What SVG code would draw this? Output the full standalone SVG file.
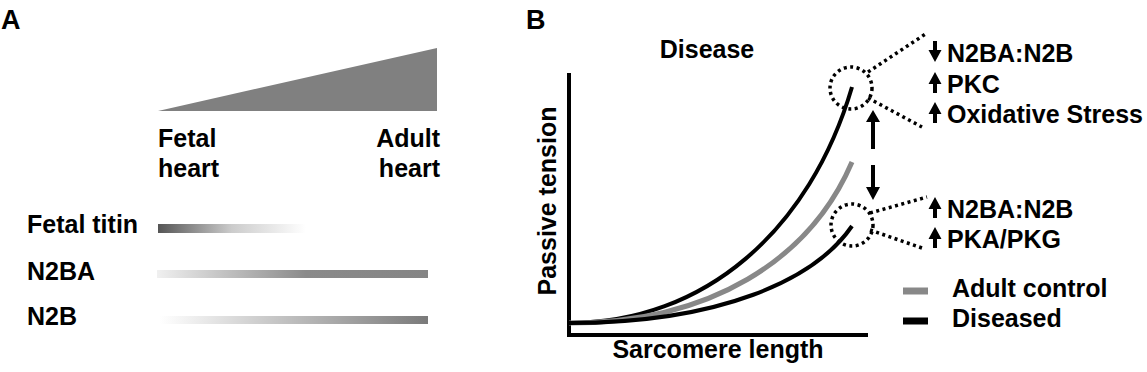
<svg xmlns="http://www.w3.org/2000/svg" width="1147" height="372" viewBox="0 0 1147 372">
<defs>
<style>
text{font-family:"Liberation Sans",Arial,sans-serif;font-weight:bold;font-size:25px;fill:#000}
.big{font-size:27px}
.curve{fill:none;stroke:#000;stroke-width:4}
.dot{fill:none;stroke:#000;stroke-width:3.5;stroke-dasharray:3 3.5}
</style>
<linearGradient id="gFetal" x1="0" x2="1" y1="0" y2="0">
<stop offset="0" stop-color="#555"/><stop offset="0.5" stop-color="#ccc"/><stop offset="1" stop-color="#fff"/>
</linearGradient>
<linearGradient id="gN2BA" x1="0" x2="1" y1="0" y2="0">
<stop offset="0" stop-color="#f0f0f0"/><stop offset="0.55" stop-color="#8a8a8a"/><stop offset="1" stop-color="#858585"/>
</linearGradient>
<linearGradient id="gN2B" x1="0" x2="1" y1="0" y2="0">
<stop offset="0" stop-color="#fff"/><stop offset="1" stop-color="#7a7a7a"/>
</linearGradient>
<g id="arrUp"><path d="M0,0 L6.5,12 L2,12 L2,21 L-2,21 L-2,12 L-6.5,12 Z" fill="#000"/></g>
<g id="arrDown"><path d="M0,21 L6.5,9 L2,9 L2,0 L-2,0 L-2,9 L-6.5,9 Z" fill="#000"/></g>
</defs>
<rect width="1147" height="372" fill="#fff"/>

<g id="panelA">
<text class="big" x="1" y="29">A</text>
<polygon id="triangle" points="158,111 437,111 437,48" fill="#808080"/>
<g id="fetal-heart"><text x="158" y="147">Fetal</text><text x="158" y="177">heart</text></g>
<g id="adult-heart"><text x="440" y="147" text-anchor="end">Adult</text><text x="440" y="177" text-anchor="end">heart</text></g>
<g id="fetal-titin"><text x="27" y="233">Fetal titin</text><rect x="158" y="224" width="148" height="9" fill="url(#gFetal)"/></g>
<g id="n2ba"><text x="27" y="280">N2BA</text><rect x="157" y="270" width="271" height="8" fill="url(#gN2BA)"/></g>
<g id="n2b"><text x="27" y="325">N2B</text><rect x="160" y="316" width="268" height="8" fill="url(#gN2B)"/></g>
</g>

<g id="panelB">
<text class="big" x="526" y="29">B</text>
<text x="707" y="58" text-anchor="middle">Disease</text>
<g id="axes">
<path d="M569,73 L569,335 L868,335" fill="none" stroke="#000" stroke-width="4"/>
<text x="0" y="0" text-anchor="middle" transform="translate(556,201) rotate(-90)">Passive tension</text>
<text x="718" y="358" text-anchor="middle">Sarcomere length</text>
</g>
<g id="curves">
<path class="curve" d="M569,323 C705,323 810,230 852,87"/>
<path class="curve" d="M569,323 C710,323 810,260 852,162" style="stroke:#888;stroke-width:5"/>
<path class="curve" d="M569,323 C720,323 815,280 852,226"/>
</g>
<g id="zoom-top">
<circle class="dot" cx="851" cy="88" r="21"/>
<line class="dot" x1="868" y1="72" x2="927" y2="33"/>
<line class="dot" x1="868" y1="98" x2="922" y2="127"/>
</g>
<g id="zoom-bottom">
<circle class="dot" cx="852" cy="225" r="21"/>
<line class="dot" x1="870" y1="213" x2="927" y2="197"/>
<line class="dot" x1="870" y1="230" x2="922" y2="248"/>
</g>
<g id="double-arrow">
<path d="M873,110 L880,122 L875,122 L875,149 L871,149 L871,122 L866,122 Z" fill="#000"/>
<path d="M873,200 L880,187 L875,187 L875,165 L871,165 L871,187 L866,187 Z" fill="#000"/>
</g>
<g id="labels-top">
<use href="#arrDown" x="935" y="41"/>
<text x="947" y="62">N2BA:N2B</text>
<use href="#arrUp" x="935" y="72"/>
<text x="947" y="93">PKC</text>
<use href="#arrUp" x="935" y="102"/>
<text x="947" y="123">Oxidative Stress</text>
</g>
<g id="labels-bottom">
<use href="#arrUp" x="935" y="197"/>
<text x="947" y="218">N2BA:N2B</text>
<use href="#arrUp" x="935" y="227"/>
<text x="947" y="248">PKA/PKG</text>
</g>
<g id="legend">
<line x1="903" y1="291" x2="928" y2="291" stroke="#888" stroke-width="7"/>
<text x="952" y="297">Adult control</text>
<line x1="903" y1="321" x2="928" y2="321" stroke="#000" stroke-width="7"/>
<text x="952" y="327">Diseased</text>
</g>
</g>
</svg>
